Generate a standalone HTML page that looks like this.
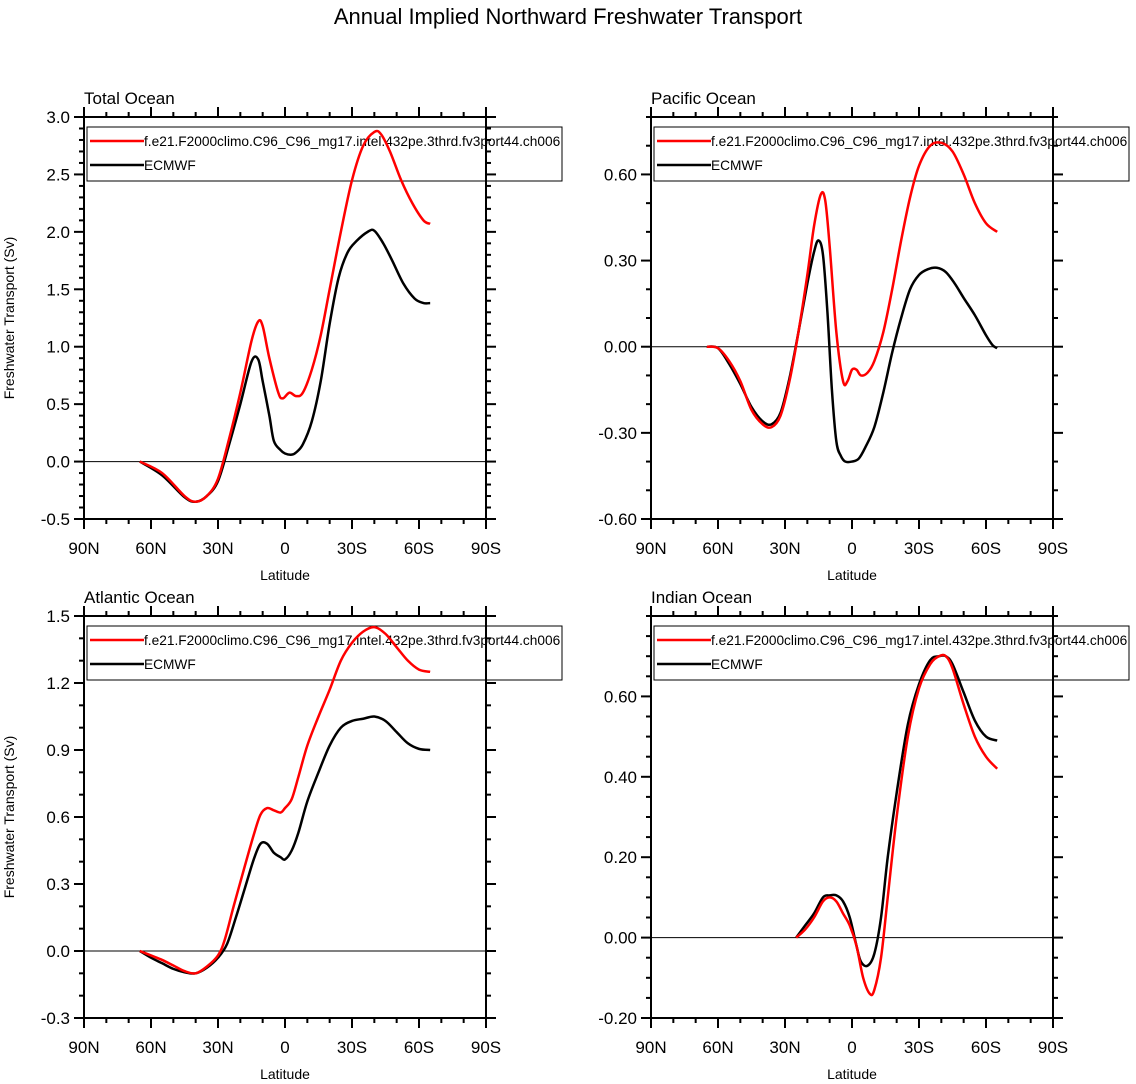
<!DOCTYPE html>
<html><head><meta charset="utf-8"><style>
html,body{margin:0;padding:0;background:#fff}
svg{display:block;font-family:"Liberation Sans",Arial,sans-serif}
</style></head><body>
<svg id="s" width="1136" height="1084" viewBox="0 0 1136 1084">
<text x="568" y="24" text-anchor="middle" font-size="22">Annual Implied Northward Freshwater Transport</text>
</svg>
<script>
// Latitude positions: negative = North, positive = South
const totalRedX=[-65,-55,-45,-40,-35,-30,-25,-20,-15,-12,-10,-7,-3,-1,2,5,8,12,16,20,25,30,35,40,43,47,52,57,62,65];
const totalRedY=[0,-0.1,-0.3,-0.35,-0.3,-0.15,0.2,0.6,1.05,1.22,1.18,0.9,0.6,0.55,0.6,0.57,0.6,0.8,1.1,1.5,2.0,2.45,2.75,2.87,2.85,2.7,2.45,2.25,2.1,2.07];
const totalBlkX=[-65,-55,-45,-40,-35,-30,-25,-20,-15,-12,-10,-7,-5,-2,0,3,5,8,12,16,20,24,28,32,37,40,44,48,53,58,62,65];
const totalBlkY=[0,-0.12,-0.31,-0.35,-0.3,-0.17,0.15,0.5,0.87,0.89,0.7,0.4,0.18,0.1,0.07,0.06,0.08,0.15,0.35,0.7,1.2,1.6,1.82,1.92,2.0,2.01,1.9,1.75,1.55,1.42,1.38,1.38];
const pacRedX=[-65,-60,-55,-50,-45,-40,-36,-32,-28,-24,-20,-17,-14,-12,-10,-7,-4,-2,0,2,4,7,10,14,18,22,26,30,35,40,45,50,55,60,65];
const pacRedY=[0,-0.005,-0.05,-0.12,-0.22,-0.27,-0.28,-0.24,-0.12,0.05,0.25,0.42,0.53,0.51,0.35,0.05,-0.12,-0.12,-0.08,-0.08,-0.1,-0.09,-0.05,0.05,0.2,0.37,0.52,0.63,0.7,0.71,0.68,0.6,0.5,0.43,0.4];
const pacBlkX=[-65,-60,-55,-50,-45,-40,-36,-32,-28,-24,-20,-17,-15,-13,-11,-9,-7,-5,-3,0,3,6,10,14,18,22,26,30,34,38,42,46,50,55,60,63,65];
const pacBlkY=[0,-0.005,-0.06,-0.13,-0.21,-0.26,-0.27,-0.23,-0.11,0.05,0.22,0.33,0.37,0.32,0.12,-0.15,-0.33,-0.38,-0.4,-0.4,-0.39,-0.35,-0.28,-0.16,-0.02,0.1,0.2,0.25,0.27,0.275,0.26,0.22,0.17,0.11,0.04,0.005,-0.005];
const atlRedX=[-65,-60,-55,-50,-45,-40,-35,-30,-27,-23,-18,-14,-11,-8,-5,-2,0,3,6,10,15,20,25,30,35,40,45,50,55,60,65];
const atlRedY=[0,-0.02,-0.04,-0.065,-0.09,-0.1,-0.07,-0.02,0.05,0.2,0.38,0.52,0.61,0.64,0.63,0.62,0.64,0.68,0.78,0.92,1.05,1.17,1.3,1.38,1.43,1.45,1.42,1.36,1.3,1.26,1.25];
const atlBlkX=[-65,-60,-55,-50,-45,-40,-35,-30,-26,-22,-18,-14,-11,-8,-5,-2,0,3,6,10,15,20,25,30,35,40,45,50,55,60,65];
const atlBlkY=[0,-0.03,-0.055,-0.08,-0.095,-0.1,-0.075,-0.03,0.03,0.15,0.28,0.41,0.48,0.48,0.44,0.42,0.41,0.45,0.53,0.67,0.8,0.92,1.0,1.03,1.04,1.05,1.03,0.98,0.93,0.905,0.9];
const indRedX=[-25,-21,-17,-13,-10,-7,-4,-1,2,5,8,10,13,16,20,25,30,35,39,42,45,50,55,60,65];
const indRedY=[0,0.02,0.05,0.09,0.1,0.09,0.06,0.03,-0.02,-0.1,-0.14,-0.13,-0.05,0.1,0.3,0.5,0.62,0.68,0.7,0.7,0.67,0.58,0.5,0.45,0.42];
const indBlkX=[-25,-21,-17,-13,-10,-7,-4,-1,2,4,7,10,13,16,20,25,30,35,39,42,45,50,55,60,65];
const indBlkY=[0,0.03,0.06,0.1,0.105,0.105,0.09,0.05,-0.02,-0.06,-0.07,-0.04,0.05,0.2,0.36,0.53,0.63,0.69,0.7,0.7,0.68,0.61,0.54,0.5,0.49];
const xTickVals=[-90,-60,-30,0,30,60,90];
const xTickLabels=["90N","60N","30N","0","30S","60S","90S"];
const totalTicks=[-0.5,0,0.5,1,1.5,2,2.5,3];
const totalLabels=["-0.5","0.0","0.5","1.0","1.5","2.0","2.5","3.0"];
const pacTicks=[-0.6,-0.3,0,0.3,0.6];
const pacLabels=["-0.60","-0.30","0.00","0.30","0.60"];
const atlTicks=[-0.3,0,0.3,0.6,0.9,1.2,1.5];
const atlLabels=["-0.3","0.0","0.3","0.6","0.9","1.2","1.5"];
const indTicks=[-0.2,0,0.2,0.4,0.6];
const indLabels=["-0.20","0.00","0.20","0.40","0.60"];
const caseName="f.e21.F2000climo.C96_C96_mg17.intel.432pe.3thrd.fv3port44.ch006";

const svg=document.getElementById('s');
const NS="http://www.w3.org/2000/svg";
function mk(tag,attrs,parent){const e=document.createElementNS(NS,tag);for(const k in attrs)e.setAttribute(k,attrs[k]);(parent||svg).appendChild(e);return e;}
function smooth(pts){
  let d='M'+pts[0][0]+','+pts[0][1];
  for(let i=0;i<pts.length-1;i++){
    const p0=pts[Math.max(0,i-1)],p1=pts[i],p2=pts[i+1],p3=pts[Math.min(pts.length-1,i+2)];
    const c1x=p1[0]+(p2[0]-p0[0])/6,c1y=p1[1]+(p2[1]-p0[1])/6;
    const c2x=p2[0]-(p3[0]-p1[0])/6,c2y=p2[1]-(p3[1]-p1[1])/6;
    d+=' C'+c1x+','+c1y+' '+c2x+','+c2y+' '+p2[0]+','+p2[1];
  }
  return d;
}

function panel(o){
  const g=mk('g',{});
  
  
  const L=o.x0,T=o.y0,W=402,H=402;
  const sx=v=>L+(v+90)/180*W;
  const sy=v=>T+H-(v-o.ymin)/(o.ymax-o.ymin)*H;
  for(let v=-90;v<=90;v+=10){
    const major=v%30===0, len=major?10:5;
    mk('line',{x1:sx(v),x2:sx(v),y1:T+H,y2:T+H+len,stroke:'#000','stroke-width':2},g);
    mk('line',{x1:sx(v),x2:sx(v),y1:T,y2:T-len,stroke:'#000','stroke-width':2},g);
  }
  for(let v=o.ymin;v<=o.ymax+1e-9;v+=o.minor){
    const vv=Math.round(v*1000)/1000;
    const major=o.ticks.some(t=>Math.abs(t-vv)<1e-6);const len=major?10:5;
    mk('line',{x1:L,x2:L-len,y1:sy(vv),y2:sy(vv),stroke:'#000','stroke-width':2},g);
    mk('line',{x1:L+W,x2:L+W+len,y1:sy(vv),y2:sy(vv),stroke:'#000','stroke-width':2},g);
  }
  xTickVals.forEach((v,i)=>{const t=mk('text',{x:sx(v),y:T+H+35,'text-anchor':'middle','font-size':17},g);t.textContent=xTickLabels[i];
    
    });
  o.ticks.forEach((v,i)=>{const t=mk('text',{x:L-14,y:sy(v)+6,'text-anchor':'end','font-size':17},g);t.textContent=o.labels[i];
    
    });
  const xt=mk('text',{x:L+W/2,y:T+H+61,'text-anchor':'middle','font-size':14},g);xt.textContent='Latitude';
  
  
  if(o.ylabel){const yt=mk('text',{x:0,y:0,'text-anchor':'middle','font-size':14,transform:`translate(${L-70},${T+H/2}) rotate(-90)`},g);yt.textContent='Freshwater Transport (Sv)';
    
    }
  const pt=mk('text',{x:L,y:T-13,'font-size':17},g);pt.textContent=o.title;
  
  
  const lg=mk('g',{},g);
  
  
  mk('rect',{x:L+3,y:T+10,width:475,height:54,fill:'none',stroke:'#000','stroke-width':1},lg);
  mk('line',{x1:L+6,x2:L+60,y1:T+24,y2:T+24,stroke:'#f00','stroke-width':2.5},lg);
  mk('line',{x1:L+6,x2:L+60,y1:T+48,y2:T+48,stroke:'#000','stroke-width':2.5},lg);
  const a=mk('text',{x:L+60,y:T+29,'font-size':13.7},lg);a.textContent=caseName;
  
  
  const b=mk('text',{x:L+60,y:T+53,'font-size':13.7},lg);b.textContent='ECMWF';
  
  
  mk('line',{x1:L,x2:L+W,y1:sy(0),y2:sy(0),stroke:'#000','stroke-width':1},g);
  const line=(xs,ys,col,nm)=>{const p=mk('path',{d:smooth(xs.map((x,i)=>[sx(x),sy(ys[i])])),fill:'none',stroke:col,'stroke-width':2.5,'stroke-linejoin':'round'},g);
    
    };
  line(o.bx,o.by,'#000','ecmwf-line');
  line(o.rx,o.ry,'#f00','model-line');
  mk('rect',{x:L,y:T,width:W,height:H,fill:'none',stroke:'#000','stroke-width':2},g);
}
panel({name:'total-ocean-panel',title:'Total Ocean',x0:84,y0:117,ymin:-0.5,ymax:3.0,minor:0.1,ticks:totalTicks,labels:totalLabels,ylabel:true,rx:totalRedX,ry:totalRedY,bx:totalBlkX,by:totalBlkY});
panel({name:'pacific-ocean-panel',title:'Pacific Ocean',x0:651,y0:117,ymin:-0.6,ymax:0.8,minor:0.1,ticks:pacTicks,labels:pacLabels,ylabel:false,rx:pacRedX,ry:pacRedY,bx:pacBlkX,by:pacBlkY});
panel({name:'atlantic-ocean-panel',title:'Atlantic Ocean',x0:84,y0:616,ymin:-0.3,ymax:1.5,minor:0.1,ticks:atlTicks,labels:atlLabels,ylabel:true,rx:atlRedX,ry:atlRedY,bx:atlBlkX,by:atlBlkY});
panel({name:'indian-ocean-panel',title:'Indian Ocean',x0:651,y0:616,ymin:-0.2,ymax:0.8,minor:0.05,ticks:indTicks,labels:indLabels,ylabel:false,rx:indRedX,ry:indRedY,bx:indBlkX,by:indBlkY});
</script>
</body></html>
